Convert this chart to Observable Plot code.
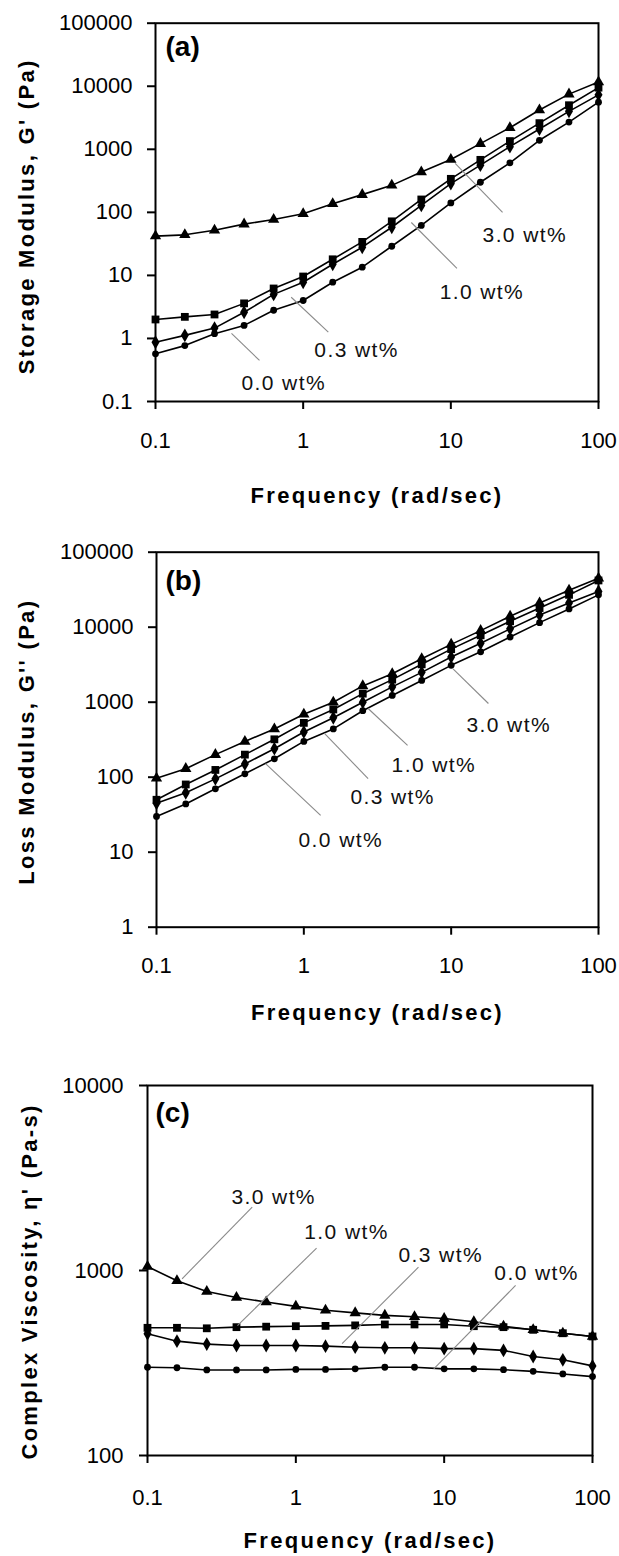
<!DOCTYPE html>
<html><head><meta charset="utf-8">
<script src="https://cdn.jsdelivr.net/npm/d3@7"></script>
<script src="https://cdn.jsdelivr.net/npm/@observablehq/plot@0.6"></script>
<style>
body{margin:0;background:#fff;}
#wrap{width:619px;}
svg{display:block;}
g[font-weight="bold"] text{letter-spacing:2.3px;}
g[font-weight="400"] text{letter-spacing:1.4px;}
</style></head><body><div id="wrap"></div>
<script>
// Frequency (rad/sec)
const freq = [0.1, 0.158, 0.251, 0.398, 0.631, 1, 1.585, 2.512, 3.981, 6.31, 10, 15.85, 25.12, 39.81, 63.1, 100];
const seriesNames = ["3.0 wt%", "1.0 wt%", "0.3 wt%", "0.0 wt%"];
const seriesSymbols = ["triangle", "square", "diamond", "circle"];

// (a) Storage modulus G' (Pa)
const storage30 = [42, 44, 52, 65, 77, 95, 137, 191, 268, 436, 690, 1230, 2200, 4200, 7500, 11700];
const storage10 = [2.0, 2.2, 2.4, 3.6, 6.2, 9.6, 18, 34, 72, 160, 340, 680, 1350, 2600, 5000, 9500];
const storage03 = [0.87, 1.12, 1.46, 2.6, 5.0, 7.8, 15, 28, 58, 129, 286, 560, 1100, 2100, 4000, 7300];
const storage00 = [0.57, 0.77, 1.19, 1.61, 2.8, 4.0, 7.8, 13.5, 29, 62, 141, 300, 610, 1390, 2700, 5600];

// (b) Loss modulus G'' (Pa)
const loss30 = [97, 130, 200, 300, 440, 690, 1000, 1650, 2400, 3800, 5900, 9000, 14000, 21000, 31000, 45000];
const loss10 = [50, 80, 125, 200, 320, 530, 800, 1300, 2000, 3200, 5100, 7800, 12000, 18000, 27000, 42000];
const loss03 = [45, 62, 95, 150, 240, 400, 620, 1000, 1600, 2500, 4000, 6100, 9500, 14500, 21000, 30000];
const loss00 = [30, 44, 70, 111, 176, 300, 440, 770, 1230, 1950, 3100, 4700, 7400, 11500, 17500, 27000];

// (c) Complex viscosity (Pa-s)
const visc30 = [1050, 880, 770, 715, 675, 640, 610, 590, 572, 562, 550, 528, 500, 478, 458, 440];
const visc10 = [490, 490, 487, 494, 497, 500, 502, 505, 511, 511, 511, 500, 494, 478, 458, 440];
const visc03 = [455, 415, 400, 393, 393, 393, 390, 385, 382, 382, 378, 378, 370, 343, 329, 305];
const visc00 = [300, 298, 290, 290, 290, 292, 292, 294, 300, 300, 294, 294, 291, 285, 276, 267];

// tick labels
const xTicks = [0.1, 1, 10, 100];
const yTicksA = [0.1, 1, 10, 100, 1000, 10000, 100000];
const yTicksB = [1, 10, 100, 1000, 10000, 100000];
const yTicksC = [100, 1000, 10000];

// annotations: label, text anchor (freq, value), leader from (x1,y1) to (x2,y2)
const notesA = [
  {label: "3.0 wt%", tx: 16.4, ty: 43, x1: 10.7, y1: 600, x2: 22.4, y2: 100},
  {label: "1.0 wt%", tx: 8.4, ty: 5.4, x1: 5.4, y1: 69, x2: 11.0, y2: 12.9},
  {label: "0.3 wt%", tx: 1.19, ty: 0.645, x1: 0.83, y1: 4.5, x2: 1.48, y2: 1.26},
  {label: "0.0 wt%", tx: 0.382, ty: 0.193, x1: 0.327, y1: 1.2, x2: 0.506, y2: 0.448}
];
const notesB = [
  {label: "3.0 wt%", tx: 12.7, ty: 489, x1: 10.3, y1: 2790, x2: 17.9, y2: 961},
  {label: "1.0 wt%", tx: 3.94, ty: 143, x1: 2.73, y1: 824, x2: 5.06, y2: 265},
  {label: "0.3 wt%", tx: 2.07, ty: 53.6, x1: 1.38, y1: 383, x2: 2.73, y2: 96},
  {label: "0.0 wt%", tx: 0.92, ty: 14.3, x1: 0.55, y1: 152, x2: 1.30, y2: 30.9}
];
const notesC = [
  {label: "3.0 wt%", tx: 0.368, ty: 2480, x1: 0.508, y1: 2198, x2: 0.171, y2: 902},
  {label: "1.0 wt%", tx: 1.14, ty: 1603, x1: 1.38, y1: 1321, x2: 0.404, y2: 504},
  {label: "0.3 wt%", tx: 4.92, ty: 1205, x1: 6.71, y1: 1042, x2: 2.05, y2: 402},
  {label: "0.0 wt%", tx: 21.8, ty: 964, x1: 30.3, y1: 830, x2: 8.51, y2: 294}
];

const symbolR = {triangle: 4.2, square: 4.4, diamond: 4.2, circle: 3.4};

function rows(valueArrays) {
  return valueArrays.map((vals, i) => vals.map((v, j) => ({f: freq[j], v, s: seriesNames[i], sym: seriesSymbols[i]})));
}

function panel(cfg) {
  const data = rows(cfg.values);
  const marks = [];
  for (const d of data) {
    marks.push(Plot.line(d, {x: "f", y: "v", stroke: "#000", strokeWidth: 1.6}));
  }
  for (const d of data) {
    marks.push(Plot.dot(d, {x: "f", y: "v", symbol: d[0].sym, r: symbolR[d[0].sym], fill: "#000", stroke: "none"}));
  }
  marks.push(Plot.link(cfg.notes, {x1: "x1", y1: "y1", x2: "x2", y2: "y2", stroke: "#8a8a8a", strokeWidth: 1.1}));
  marks.push(Plot.text(cfg.notes, {x: "tx", y: "ty", text: "label", textAnchor: "start", lineAnchor: "middle", fontSize: 21, fontWeight: "400", fill: "#111"}));
  marks.push(Plot.frame({stroke: "#000", strokeWidth: 2}));
  marks.push(Plot.axisX({ticks: xTicks, tickFormat: d => String(d), tickSize: 8, tickPadding: cfg.xPad, strokeWidth: 2, label: null, fontSize: 22}));
  marks.push(Plot.axisY({ticks: cfg.yTicks, tickFormat: d => String(d), tickSize: 8, tickPadding: cfg.yPad, strokeWidth: 2, label: null, fontSize: 22}));
  marks.push(Plot.text(["Frequency (rad/sec)"], {frameAnchor: "bottom", textAnchor: "middle", lineAnchor: "middle", dy: cfg.xTitleDy, fontSize: 22, fontWeight: "bold", fill: "#000"}));
  marks.push(Plot.text([cfg.yLabel], {frameAnchor: "left", textAnchor: "middle", lineAnchor: "middle", rotate: -90, dx: cfg.yTitleDx, dy: cfg.yTitleDy, fontSize: 22, fontWeight: "bold", fill: "#000"}));
  marks.push(Plot.text([cfg.tag], {frameAnchor: "top-left", textAnchor: "start", lineAnchor: "middle", dx: cfg.tagDx, dy: cfg.tagDy, fontSize: 28, fontWeight: 700, fill: "#000"}));
  return Plot.plot({
    width: 619,
    height: cfg.height,
    marginLeft: cfg.ml, marginRight: cfg.mr, marginTop: cfg.mt, marginBottom: cfg.mb,
    style: {fontFamily: "'Liberation Sans', Arial, sans-serif", fontSize: "22px", background: "#fff", color: "#000"},
    x: {type: "log", domain: [0.1, 100]},
    y: {type: "log", domain: cfg.yDomain},
    marks
  });
}

const wrap = document.getElementById("wrap");
wrap.append(panel({
  values: [storage30, storage10, storage03, storage00], notes: notesA,
  yDomain: [0.1, 100000], yTicks: yTicksA, height: 520,
  ml: 155, mr: 21, mt: 22.7, mb: 119,
  xPad: 23, yPad: 15, xTitleDy: 94, yTitleDx: -129, yTitleDy: 4,
  yLabel: "Storage Modulus, G' (Pa)", tag: "(a)", tagDx: 10, tagDy: 24
}));
wrap.append(panel({
  values: [loss30, loss10, loss03, loss00], notes: notesB,
  yDomain: [1, 100000], yTicks: yTicksB, height: 520,
  ml: 156, mr: 21, mt: 31.7, mb: 113.3,
  xPad: 22, yPad: 15, xTitleDy: 86, yTitleDx: -130, yTitleDy: 2,
  yLabel: "Loss Modulus, G'' (Pa)", tag: "(b)", tagDx: 9, tagDy: 29
}));
wrap.append(panel({
  values: [visc30, visc10, visc03, visc00], notes: notesC,
  yDomain: [100, 10000], yTicks: yTicksC, height: 516,
  ml: 147, mr: 27, mt: 45, mb: 101,
  xPad: 26, yPad: 16, xTitleDy: 85, yTitleDx: -118, yTitleDy: 11,
  yLabel: "Complex Viscosity, η' (Pa-s)", tag: "(c)", tagDx: 8, tagDy: 28
}));
</script></body></html>
